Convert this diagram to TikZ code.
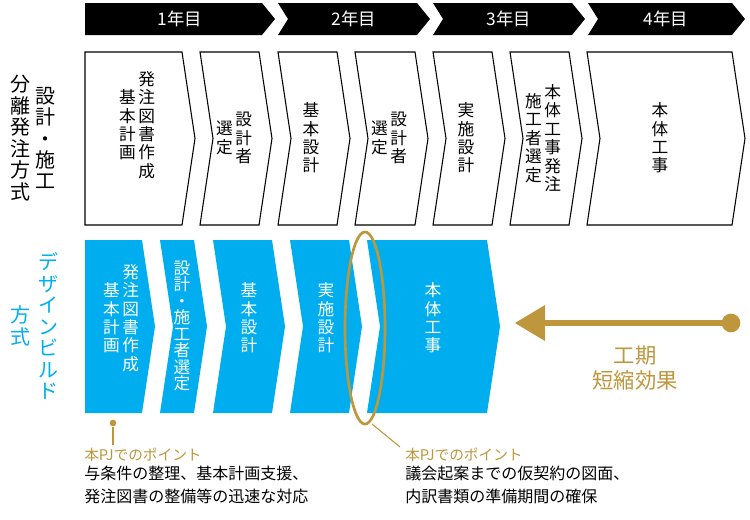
\documentclass[tikz,border=0pt]{standalone}
\usepackage{fontspec}
\setmainfont{Noto Sans CJK JP}
\usetikzlibrary{positioning}

% chevron: x0, x1, top, bottom, notch depth at left, style
\newcommand{\chev}[6]{%
  \path[#6] (#1,#3) -- ({#2-13},#3) -- (#2,{(#3+#4)/2}) -- ({#2-13},#4)
    -- (#1,#4) -- ({#1+#5},{(#3+#4)/2}) -- cycle;}
% one vertical column of characters
\newcommand{\vc}[1]{\parbox[c]{1.15em}{\centering\linespread{0.92}\selectfont #1}}

\begin{document}
\begin{tikzpicture}[x=0.75pt,y=-0.75pt]

\tikzstyle{yearbar}=[fill=black]
\tikzstyle{oldbox}=[draw=black, fill=white, line width=0.8pt]
\tikzstyle{dbbox}=[fill={rgb,255:red,0;green,174;blue,239}]
\tikzstyle{vtext}=[font=\fontsize{12.5}{15}\selectfont, inner sep=0pt]

\definecolor{goldc}{RGB}{190,150,60}
\definecolor{dbblue}{RGB}{0,174,239}

\useasboundingbox (0,0) rectangle (750,519);

% year bar
\chev{85}{275}{3}{35}{0}{yearbar}
\chev{278}{430}{3}{35}{10}{yearbar}
\chev{433}{585}{3}{35}{10}{yearbar}
\chev{588}{745}{3}{35}{10}{yearbar}
\node[white, font=\fontsize{13}{15}\selectfont] (y1) at (180,19) {1年目};
\node[white, font=\fontsize{13}{15}\selectfont] (y2) at (354,19) {2年目};
\node[white, font=\fontsize{13}{15}\selectfont] (y3) at (509,19) {3年目};
\node[white, font=\fontsize{13}{15}\selectfont] (y4) at (666,19) {4年目};

% separate ordering
\chev{85}{195}{52}{225}{0}{oldbox}
\chev{200}{272}{52}{225}{13}{oldbox}
\chev{278}{350}{52}{225}{13}{oldbox}
\chev{355}{428}{52}{225}{13}{oldbox}
\chev{433}{505}{52}{225}{13}{oldbox}
\chev{510}{582}{52}{225}{13}{oldbox}
\chev{587}{745}{52}{225}{13}{oldbox}

\node[vtext] (a1) at (137,125) {\vc{基\\本\\計\\画}\vc{発\\注\\図\\書\\作\\成}};
\node[vtext] (a2) at (234,138) {\vc{選\\定}\vc{設\\計\\者}};
\node[vtext] (a3) at (311,138) {\vc{基\\本\\設\\計}};
\node[vtext] (a4) at (389,138) {\vc{選\\定}\vc{設\\計\\者}};
\node[vtext] (a5) at (466,138) {\vc{実\\施\\設\\計}};
\node[vtext] (a6) at (543,138) {\vc{施\\工\\者\\選\\定}\vc{本\\体\\工\\事\\発\\注}};
\node[vtext] (a7) at (660,138) {\vc{本\\体\\工\\事}};

\node[font=\fontsize{15}{17.5}\selectfont, inner sep=0pt] (oldname) at (33,138)
  {\vc{分\\離\\発\\注\\方\\式}\hspace{2pt}\vc{設\\計\\・\\施\\工}};

% design build
\chev{85}{155}{240}{413}{0}{dbbox}
\chev{160}{207}{240}{413}{13}{dbbox}
\chev{213}{285}{240}{413}{13}{dbbox}
\chev{290}{362}{240}{413}{13}{dbbox}
\chev{367}{500}{240}{413}{13}{dbbox}

\node[vtext, white] (b1) at (121,318) {\vc{基\\本\\計\\画}\vc{発\\注\\図\\書\\作\\成}};
\node[vtext, white, font=\fontsize{12.5}{13.5}\selectfont] (b2) at (182,326) {\vc{設\\計\\・\\施\\工\\者\\選\\定}};
\node[vtext, white] (b3) at (249,318) {\vc{基\\本\\設\\計}};
\node[vtext, white] (b4) at (326,318) {\vc{実\\施\\設\\計}};
\node[vtext, white] (b5) at (433,318) {\vc{本\\体\\工\\事}};

\node[font=\fontsize{15}{17.5}\selectfont, inner sep=0pt, text=dbblue] (dbname) at (48,326)
  {\vc{デ\\ザ\\イ\\ン\\ビ\\ル\\ド}};
\node[font=\fontsize{15}{17.5}\selectfont, inner sep=0pt, text=dbblue] (dbname2) at (20,326)
  {\vc{方\\式}};

% shortening
\draw[goldc, line width=2pt] (365,328) ellipse (20 and 96);
\coordinate (ellbot) at (372,424);
\node[circle, fill=goldc, minimum size=14pt, inner sep=0pt] (dot) at (731,323) {};
\coordinate (arrtip) at (515,323);
\draw[goldc, line width=5pt] (dot.center) -- (545,323);
\fill[goldc] (arrtip) -- (545,305) -- (545,341) -- cycle;
\node[text=goldc, font=\fontsize{16}{19}\selectfont, align=center] (gain) at (635,368) {工期\\短縮効果};

% points
\node[circle, fill=goldc, minimum size=5pt, inner sep=0pt] (p1) at (113,423) {};
\node[text=goldc, font=\fontsize{11}{13}\selectfont, anchor=west, inner sep=0pt] (pj1) at (84,455) {本PJでのポイント};
\draw[goldc, line width=0.8pt] (p1) -- (113,445);
\node[font=\fontsize{12}{17}\selectfont, anchor=north west, align=left, inner sep=0pt] (t1) at (84,466)
  {与条件の整理、基本計画支援、\\発注図書の整備等の迅速な対応};
\node[text=goldc, font=\fontsize{11}{13}\selectfont, anchor=west, inner sep=0pt] (pj2) at (405,455) {本PJでのポイント};
\draw[goldc, line width=0.8pt] (ellbot) -- (400,447);
\node[font=\fontsize{12}{17}\selectfont, anchor=north west, align=left, inner sep=0pt] (t2) at (405,466)
  {議会起案までの仮契約の図面、\\内訳書類の準備期間の確保};

\end{tikzpicture}
\end{document}
